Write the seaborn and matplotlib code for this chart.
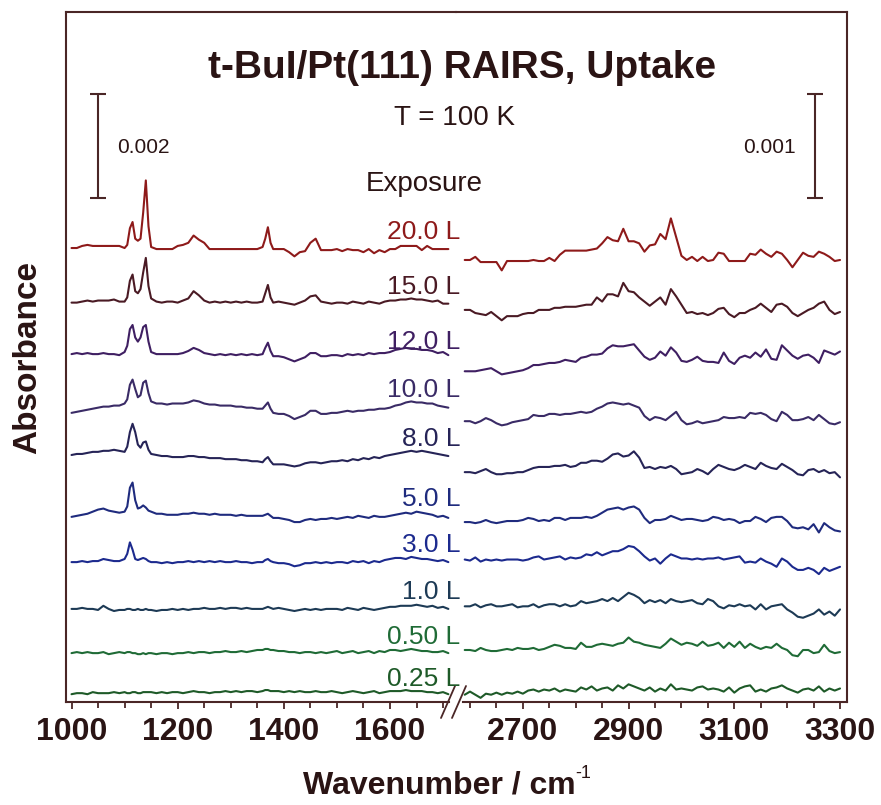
import numpy as np
import pandas as pd
import matplotlib
matplotlib.use("Agg")
import matplotlib.pyplot as plt
import seaborn as sns
from matplotlib.lines import Line2D

sns.set_style("white")
plt.rcParams['font.family'] = ['Liberation Sans', 'DejaVu Sans']

# ---------------- data ----------------
exposures = ["20.0 L", "15.0 L", "12.0 L", "10.0 L", "8.0 L",
             "5.0 L", "3.0 L", "1.0 L", "0.50 L", "0.25 L"]
# wavenumber sampling (cm-1): finer around the sharp 1100-1150 and 1370 bands
wn_low = (list(range(1000, 1100, 10)) + list(range(1100, 1150, 5)) +
          list(range(1150, 1360, 10)) + list(range(1360, 1380, 5)) +
          list(range(1380, 1711, 10)))
wn_high = list(range(2590, 3301, 10))
low_ticks = [1000, 1200, 1400, 1600]
high_ticks = [2700, 2900, 3100, 3300]

# absorbance change, units of 1e-5
low_20 = [2,2,6,8,6,6,6,6,6,6,
          2,8,40,52,20,16,20,70,132,44,
          4,0,0,0,0,6,8,12,26,18,12,0,0,0,0,0,0,0,0,0,0,
          4,20,42,12,
          0,0,0,-6,-14,-6,-4,12,20,-2,-2,-2,0,-4,0,-2,-2,-6,0,-8,-2,-6,0,0,6,6,6,6,-2,6,0,0,0,0]
low_15 = [-2,-2,0,2,0,2,2,2,4,0,
          0,8,40,52,20,16,24,56,84,30,
          6,0,-2,0,0,-2,2,6,20,12,2,-2,0,-2,0,-2,0,-2,0,-2,-2,
          0,16,32,8,
          -2,0,-2,-4,-6,-2,2,10,12,0,-2,-4,-2,-2,-4,0,-2,-4,0,-2,-4,0,2,2,4,4,6,4,4,2,0,2,-4,-4]
low_12 = [0,2,0,2,0,0,2,0,0,-2,
          4,16,48,56,32,24,32,52,56,24,
          4,0,0,0,0,0,2,6,12,8,2,0,-2,0,-2,0,-2,0,-2,0,-2,
          0,12,22,6,
          -4,-4,-6,-10,-14,-10,-6,2,2,-4,-4,-2,-2,-4,0,-2,0,-2,2,0,2,2,4,8,10,12,10,10,8,8,6,2,4,-2]
low_10 = [-2,0,2,4,6,8,10,10,12,12,
          16,24,52,62,44,28,32,56,60,36,
          20,16,16,14,16,16,16,18,22,20,16,14,14,12,12,12,10,10,8,8,6,
          6,12,18,6,
          -2,-4,-4,-8,-14,-10,-6,2,2,-4,-4,-2,-2,0,2,0,2,2,4,4,6,6,8,12,14,18,20,18,18,16,16,12,10,8]
low_8 = [0,2,2,4,6,6,8,8,10,8,
         6,16,44,60,44,20,14,24,26,10,
         2,0,-2,-2,-4,-4,-4,-2,-2,-4,-4,-6,-6,-6,-8,-8,-8,-10,-10,-12,-12,
         -14,-8,-4,-12,
         -18,-18,-18,-20,-22,-20,-16,-14,-14,-16,-14,-12,-12,-10,-12,-8,-10,-6,-8,-4,-6,-2,
         0,2,4,6,8,6,8,6,4,2,0,-2]
low_5 = [0,2,4,6,10,14,16,12,10,8,
         10,20,56,66,32,16,18,22,18,12,
         10,6,6,4,4,4,6,6,8,6,6,4,6,4,4,4,2,4,2,2,2,
         2,4,6,2,
         -2,-2,-4,-6,-10,-10,-6,-4,-6,-4,-4,-2,-4,-2,0,-2,2,0,-2,2,0,0,2,4,6,8,6,10,8,6,4,0,2,-2]
low_3 = [0,0,2,0,2,2,6,4,2,2,
         6,16,38,24,6,4,6,8,6,2,
         0,0,-2,0,-2,0,0,2,0,2,0,2,0,2,0,0,2,0,0,-2,0,
         0,4,6,2,
         0,-2,-2,-4,-8,-6,-2,-2,0,-2,0,-2,0,0,-2,2,0,2,-2,2,0,4,6,8,8,6,10,8,6,6,4,2,4,0]
low_1 = [0,0,2,0,0,-2,6,0,-4,-2,
         -2,0,0,-2,-2,0,-2,-2,0,-2,
         -2,-4,-2,-2,0,-2,0,-2,0,0,2,0,0,2,0,2,2,0,2,0,0,
         0,2,4,2,
         0,2,0,-2,-4,-2,0,-2,0,-2,0,0,0,-2,2,0,-2,2,0,-2,0,2,4,4,6,6,6,8,6,4,6,2,4,0]
low_050 = [0,2,0,2,0,0,2,-2,0,2,
           0,2,2,0,0,-2,-2,0,-2,0,
           0,-2,0,0,-2,0,0,2,0,2,2,0,2,2,4,2,2,4,2,4,6,
           6,8,8,6,
           6,4,4,2,2,0,2,2,0,2,0,2,4,0,2,4,0,2,4,0,4,2,6,6,4,6,8,6,4,4,2,2,4,0]
low_025 = [0,2,2,0,4,2,2,2,4,2,
           4,2,2,4,4,2,2,4,4,4,
           4,2,4,2,4,4,2,4,6,4,4,2,4,4,6,4,6,4,6,6,4,
           6,8,8,6,
           6,6,4,6,4,6,4,4,6,4,4,6,4,2,4,6,4,2,4,6,2,4,6,6,6,8,6,6,6,4,4,2,4,0]

high_20 = [0,0,3,-2,-2,-2,-2,-10,-1,-1, -1,-1,-1,0,-1,-1,2,-1,5,9, 9,9,9,9,10,11,16,22,19,18,
           30,18,18,16,8,14,15,25,20,40, 22,4,0,3,-1,3,-1,0,7,6, -1,-1,-1,-1,6,5,10,6,3,8,
           6,0,-7,0,7,4,3,8,6,3, -1,0]
high_15 = [0,0,-3,-4,-5,-2,-6,-10,-6,-6, -6,-4,-3,-3,0,0,0,2,2,3, 3,3,4,5,5,12,8,15,15,13,
           26,18,17,12,8,4,8,12,5,20, 13,5,-3,-2,-4,-3,-5,-3,1,2, -4,-7,-3,-3,0,2,6,2,-2,5,
           6,3,-3,-6,-3,0,2,6,8,0, -4,-2]
high_12 = [0,0,0,1,2,3,0,-3,-2,-1, 0,1,3,6,6,7,8,8,9,11, 10,9,13,14,16,16,17,22,25,24,
           24,25,26,20,14,11,13,19,15,23, 18,10,9,11,14,10,9,9,8,18, 10,7,13,15,13,18,14,21,12,11,
           25,20,15,12,15,16,13,8,20,18, 16,19]
high_10 = [0,0,-2,0,3,1,-2,-4,-3,-1, 0,1,2,6,5,5,7,7,6,7, 7,8,9,8,9,12,14,17,18,17,
           16,17,15,13,5,1,4,3,1,5, 9,1,-3,-2,0,-2,-1,0,1,4, 3,3,4,3,8,7,8,6,2,0,
           9,6,1,1,2,4,1,6,2,-2, -3,-1]
high_8 = [0,0,-1,1,3,0,-2,-2,-1,-1, 0,0,2,4,5,5,5,6,6,7, 5,6,9,9,11,11,10,13,17,18,
          15,16,20,14,4,5,3,5,4,6, 3,-2,-1,0,3,1,-2,3,7,5, 3,2,4,7,5,3,9,6,4,3,
          8,5,2,-2,-3,2,3,0,2,-1, 0,-5]
high_5 = [0,0,-1,0,2,0,-1,0,1,1, 1,2,4,3,1,2,1,4,4,2, 4,4,4,5,4,6,9,12,13,14,
          12,14,15,12,4,-1,2,2,3,6, 4,2,3,3,2,1,2,5,4,2, 3,2,-1,1,1,5,3,0,4,5,
          5,1,-5,-6,-5,-7,-2,-10,-1,-5, -8,-9]
high_3 = [0,-1,2,-2,0,-1,0,-1,0,0, 0,-1,0,2,3,0,1,2,3,0, 2,1,2,5,4,7,4,6,8,8,
          10,13,12,8,3,-1,1,-4,1,5, 3,1,1,0,1,0,1,1,2,0, 1,2,3,-3,-2,-3,1,-2,-4,-7,
          1,-2,-7,-10,-10,-8,-10,-14,-8,-11, -9,-7]
high_1 = [0,0,2,-1,1,2,0,0,1,2, -1,0,0,2,-1,1,2,2,0,2, 0,1,5,3,4,5,7,5,8,5,
          9,13,11,8,3,6,4,6,3,7, 5,4,5,6,3,2,7,5,0,-2, 1,0,2,0,1,-3,2,-3,0,1,
          2,-3,-6,-10,-11,-9,-7,-3,-8,-5, -9,-3]
high_050 = [0,0,-1,2,0,-1,-1,0,1,0, 2,1,1,2,0,1,3,5,4,2, 2,1,7,3,3,5,6,5,4,6,
            7,12,8,7,5,4,3,2,6,11, 8,5,7,6,4,8,4,5,7,2, 7,3,8,2,6,3,1,3,2,6,
            2,0,-5,-6,0,0,-3,-2,5,-1, -3,-2]
high_025 = [0,3,0,-3,1,0,2,0,2,1, 3,1,4,5,3,5,4,6,3,5, 4,3,7,5,8,4,6,7,4,9,
            6,10,8,6,4,7,3,6,4,10, 5,6,5,4,7,8,5,6,5,3, 7,2,6,8,9,3,5,3,6,7,
            9,6,4,2,5,6,4,8,3,6, 4,6]

low_series = [low_20, low_15, low_12, low_10, low_8, low_5, low_3, low_1, low_050, low_025]
high_series = [high_20, high_15, high_12, high_10, high_8, high_5, high_3, high_1, high_050, high_025]

# ---------------- layout / style ----------------
W, H = 881, 805
def P(x, y):
    return x / W, 1 - y / H

colors = ['#8e1a1a', '#4a1a24', '#3f1f62', '#3a2b66', '#262457',
          '#1f2b7e', '#1c2a8e', '#1d3a55', '#1f6b36', '#1e5a28']
palette = dict(zip(exposures, colors))
frame_c = '#4a2626'
text_c = '#2a1414'

# vertical stacking offsets (units of 1e-5 absorbance)
off_low = [871, 770, 669, 558, 475, 356, 269, 179, 94, 15]
off_high = [425, 377, 318, 270, 221, 173, 137, 92, 50, 7]

rows_low, rows_high = [], []
for name, vals, o in zip(exposures, low_series, off_low):
    for w, v in zip(wn_low, vals):
        rows_low.append((name, w, (v + o) * 1e-5))
for name, vals, o in zip(exposures, high_series, off_high):
    for w, v in zip(wn_high, vals):
        rows_high.append((name, w, (v + o) * 1e-5))
df_low = pd.DataFrame(rows_low, columns=["exposure", "wavenumber", "absorbance"])
df_high = pd.DataFrame(rows_high, columns=["exposure", "wavenumber", "absorbance"])

fig = plt.figure(figsize=(W / 100, H / 100), dpi=100)
ax1 = fig.add_axes([66 / W, 1 - 702 / H, 390 / W, 690 / H])
ax2 = fig.add_axes([456 / W, 1 - 702 / H, 391 / W, 690 / H])

sns.lineplot(data=df_low, x="wavenumber", y="absorbance", hue="exposure",
             palette=palette, estimator=None, sort=False, legend=False,
             linewidth=1.5, ax=ax1)
sns.lineplot(data=df_high, x="wavenumber", y="absorbance", hue="exposure",
             palette=palette, estimator=None, sort=False, legend=False,
             linewidth=1.5, ax=ax2)

ax1.set_xlim(989.6, 1724.4)
ax2.set_xlim(2573.5, 3313.2)
ax1.set_ylim(0, 690 * 1.923e-5)
ax2.set_ylim(0, 690 * 0.9615e-5)

for ax, maj, mn in [(ax1, low_ticks, np.arange(1000, 1701, 50)),
                    (ax2, high_ticks, np.arange(2600, 3301, 50))]:
    ax.set_xticks(maj)
    ax.set_xticks(mn, minor=True)
    ax.set_yticks([])
    ax.set_xlabel("")
    ax.set_ylabel("")
    ax.tick_params(axis='x', which='both', direction='out', color=frame_c,
                   width=1.3, labelcolor=text_c, labelsize=23, pad=6, bottom=True)
    ax.tick_params(axis='x', which='major', length=5)
    ax.tick_params(axis='x', which='minor', length=4)
    for lab in ax.get_xticklabels():
        lab.set_fontweight('bold')
    for s in ax.spines.values():
        s.set_color(frame_c)
        s.set_linewidth(1.5)
    ax.patch.set_alpha(0)

ax1.spines['right'].set_visible(False)
ax2.spines['left'].set_visible(False)
ax1.spines['bottom'].set_bounds(989.6, 1712)
ax2.spines['bottom'].set_bounds(2586, 3313.2)

# axis break marks
for x0 in (441, 452):
    fig.add_artist(Line2D([x0 / W, (x0 + 14) / W], [1 - 718 / H, 1 - 686 / H],
                          transform=fig.transFigure, color=frame_c, lw=1.3))

# scale bars
ax1.errorbar([1050], [0.009692 + 0.001], yerr=[0.001], fmt='none', ecolor=frame_c,
             elinewidth=1.5, capsize=6, capthick=1.5)
ax2.errorbar([3253], [0.004846 + 0.0005], yerr=[0.0005], fmt='none', ecolor=frame_c,
             elinewidth=1.5, capsize=6, capthick=1.5)

# texts
fig.text(*P(462, 78), "t-BuI/Pt(111) RAIRS, Uptake", ha='center', va='baseline',
         fontsize=28, fontweight='bold', color=text_c)
fig.text(*P(454, 125), "T = 100 K", ha='center', va='baseline', fontsize=20, color=text_c)
fig.text(*P(424, 191), "Exposure", ha='center', va='baseline', fontsize=20, color=text_c)
fig.text(*P(143, 153), "0.002", ha='center', va='baseline', fontsize=15, color=text_c)
fig.text(*P(769, 153), "0.001", ha='center', va='baseline', fontsize=15, color=text_c)

label_base = [239, 294, 349, 397, 446, 506, 552, 599, 644, 686]
for name, yb, c in zip(exposures, label_base, colors):
    fig.text(*P(460, yb), name, ha='right', va='baseline', fontsize=19, color=c)

fig.text(*P(28, 357), "Absorbance", rotation=90, ha='center', va='center',
         fontsize=24, fontweight='bold', color=text_c)
fig.text(*P(576, 793), "Wavenumber / cm", ha='right', va='baseline',
         fontsize=23, fontweight='bold', color=text_c)
fig.text(*P(575, 778), "-1", ha='left', va='baseline', fontsize=13, color=text_c)

fig.savefig("out.png", dpi=100)
